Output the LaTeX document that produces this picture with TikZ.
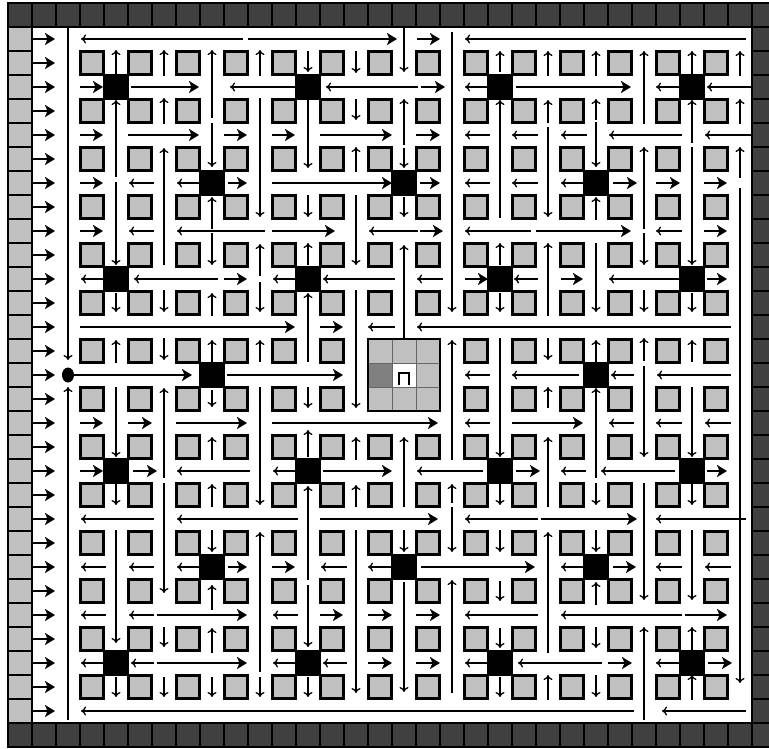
\documentclass[tikz,border=0pt]{standalone}
\usetikzlibrary{arrows.meta}
\definecolor{lightg}{HTML}{C0C0C0}
\definecolor{darkt}{HTML}{404040}
\definecolor{midg}{HTML}{808080}
\tikzset{
  tile/.style={fill=darkt, draw=black, line width=1.6pt},
  ltile/.style={fill=lightg, draw=black, line width=1.6pt},
  sq/.style={fill=lightg, draw=black, line width=2.5pt},
  rarr/.style={line width=2.8pt, -{Stealth[length=10pt,width=12pt,inset=2.5pt]}},
  tarr/.style={line width=1.3pt, -{To[length=5pt,width=9pt]}},
}
\begin{document}
\begin{tikzpicture}[x=1pt,y=-1pt]
\useasboundingbox (0,0) rectangle (769,748);
\clip (0,0) rectangle (769,748);
\fill[white] (0,0) rectangle (769,748);
% border tiles
\foreach \c in {0,...,31} {
  \draw[tile] ({8+24*\c},3) rectangle ++(24,24);
  \draw[tile] ({8+24*\c},723) rectangle ++(24,24);
}
\foreach \r in {1,...,29} {
  \draw[ltile] (8,{3+24*\r}) rectangle ++(24,24);
  \draw[tile] (752,{3+24*\r}) rectangle ++(24,24);
}
% storage squares
\foreach \i in {0,...,13} \foreach \j in {0,...,13} {
  \draw[sq] ({92+48*\i-11.5},{63+48*\j-11.5}) rectangle ++(23,23);
}
% entry arrows
\foreach \r in {1,...,29} \draw[rarr] (33,{15+24*\r}) -- (55,{15+24*\r});
% thick rightward arrows
\foreach \y/\a/\b in {39/248/397, 39/417/440,
 87/80/103, 87/131/199, 87/421/445, 87/516/631,
 135/80/103, 135/128/199, 135/224/247, 135/272/295, 135/320/392, 135/416/440,
 183/80/103, 183/228/247, 183/272/392, 183/420/440, 183/613/637, 183/656/680, 183/704/727,
 231/80/103, 231/272/335, 231/420/443, 231/536/631, 231/704/727,
 279/224/247, 279/465/488, 279/561/583, 279/707/727,
 327/80/295, 327/320/343,
 375/70/192, 375/227/343,
 423/80/103, 423/128/152, 423/176/247, 423/272/438, 423/512/583,
 471/80/103, 471/133/157, 471/323/392, 471/516/540, 471/707/727,
 519/320/438, 519/541/637,
 567/228/247, 567/272/295, 567/421/535, 567/613/636,
 615/157/247, 615/320/343, 615/368/392, 615/416/440, 615/685/727,
 663/157/247, 663/368/392, 663/416/440, 663/608/632, 663/708/732}
  \draw[rarr] (\a,\y) -- (\b,\y);
% thin leftward arrows
\foreach \y/\a/\b in {39/243/81, 39/746/465,
 87/296/230, 87/418/326, 87/488/465, 87/680/656, 87/752/707,
 135/490/465, 135/538/512, 135/587/561, 135/682/609, 135/752/705,
 183/154/129, 183/200/177, 183/490/465, 183/538/512, 183/584/561,
 231/154/129, 231/265/177, 231/418/369, 231/531/465, 231/682/656,
 279/104/81, 279/218/134, 279/297/273, 279/395/323, 279/443/417, 279/538/514, 279/681/609,
 327/395/368, 327/731/417,
 375/490/465, 375/579/512, 375/634/611, 375/731/657,
 423/490/465, 423/634/609, 423/682/656, 423/731/705,
 471/250/177, 471/297/273, 471/483/417, 471/586/561, 471/675/601,
 519/154/81, 519/298/177, 519/538/465, 519/746/656,
 567/106/81, 567/154/129, 567/200/177, 567/347/321, 567/392/368, 567/584/561, 567/682/656, 567/731/705,
 615/106/81, 615/154/129, 615/298/273, 615/538/465, 615/682/561,
 663/104/81, 663/154/131, 663/297/273, 663/347/323, 663/488/465, 663/602/518, 663/681/656,
 711/634/81, 711/746/662}
  \draw[tarr] (\a,\y) -- (\b,\y);
% thin vertical arrows
\foreach \x/\a/\b in {68/28/360, 68/720/387,
 116/75/50, 116/177/100, 116/182/265, 116/293/312, 116/363/340, 116/387/457, 116/483/505, 116/530/643, 116/677/697,
 164/76/50, 164/124/98, 164/265/148, 164/290/312, 164/338/360, 164/478/388, 164/483/593, 164/627/647, 164/677/697,
 212/118/50, 212/123/167, 212/229/197, 212/233/265, 212/316/293, 212/362/340, 212/390/407, 212/460/437, 212/507/484, 212/530/552, 212/610/585, 212/653/628, 212/677/697,
 260/76/50, 260/98/217, 260/276/244, 260/282/312, 260/362/340, 260/387/505, 260/672/532, 260/677/697,
 308/51/72, 308/100/168, 308/195/217, 308/265/243, 308/362/293, 308/387/408, 308/457/430, 308/580/486, 308/585/647, 308/677/697,
 356/51/73, 356/99/120, 356/172/147, 356/195/265, 356/290/408, 356/460/437, 356/507/485, 356/530/693,
 404/28/72, 404/145/99, 404/148/168, 404/197/217, 404/338/245, 404/507/437, 404/530/552, 404/582/692,
 452/32/312, 452/460/340, 452/503/484, 452/507/552, 452/693/580,
 500/72/51, 500/218/100, 500/265/243, 500/293/312, 500/338/457, 500/483/505, 500/530/552, 500/581/601, 500/628/648, 500/677/697,
 548/76/51, 548/123/100, 548/127/217, 548/316/243, 548/338/360, 548/408/387, 548/507/437, 548/653/532, 548/700/675,
 596/76/51, 596/120/99, 596/122/167, 596/220/197, 596/243/312, 596/362/340, 596/478/388, 596/483/505, 596/530/552, 596/605/582, 596/627/648, 596/675/697,
 644/124/51, 644/229/147, 644/233/265, 644/290/312, 644/361/338, 644/366/457, 644/483/600, 644/720/627,
 692/76/51, 692/143/100, 692/147/265, 692/293/312, 692/362/340, 692/387/457, 692/483/505, 692/530/600, 692/650/627, 692/700/675,
 740/76/51, 740/124/99, 740/178/147, 740/188/683}
  \draw[tarr] (\x,\a) -- (\x,\b);
% black squares (crossings)
\foreach \c/\r in {4/3,12/3,20/3,28/3, 8/7,16/7,24/7, 4/11,12/11,20/11,28/11, 8/15,24/15,
  4/19,12/19,20/19,28/19, 8/23,16/23,24/23, 4/27,12/27,20/27,28/27}
  \fill[black] ({20+24*\c-13},{15+24*\r-13}) rectangle ++(26,26);
% central block
\fill[lightg] (368,339) rectangle (440,411);
\fill[midg] (368,363) rectangle (392,387);
\fill[white] (392,363) rectangle (416,387);
\draw[black!60, line width=0.9pt] (392,339) -- (392,411) (416,339) -- (416,411)
  (368,363) -- (440,363) (368,387) -- (440,387);
\draw[black, line width=2.5pt] (368,339) rectangle (440,411);
\draw[black, line width=2.8pt] (399,385) -- (399,373) -- (409,373) -- (409,385);
% start point
\fill[black] (68,375) ellipse [x radius=6, y radius=7.5];
\end{tikzpicture}
\end{document}
